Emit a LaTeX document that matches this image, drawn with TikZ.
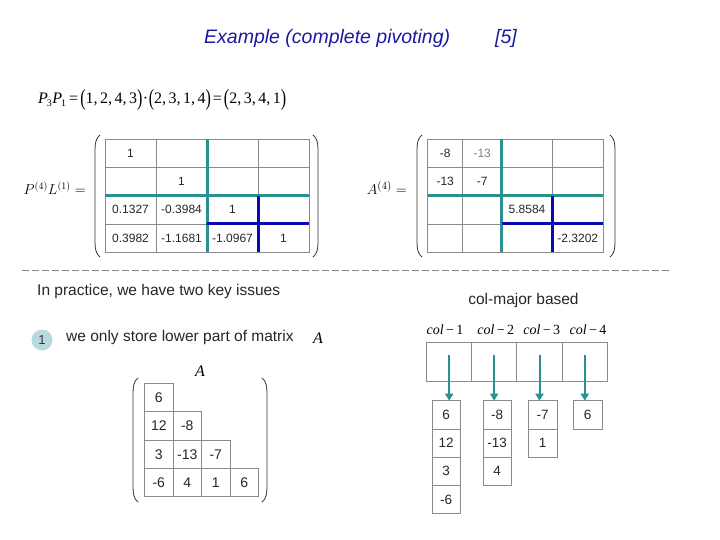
\documentclass[tikz,border=0pt]{standalone}
\usepackage{graphicx}
\usepackage{fontspec}
\setmainfont{Liberation Sans}
\newfontfamily\tms{Liberation Serif}
\usetikzlibrary{arrows.meta}
\definecolor{tealA}{HTML}{2A9090}
\definecolor{blueA}{HTML}{0A0AB4}
\definecolor{gridA}{HTML}{8A8A8A}
\definecolor{ttlA}{HTML}{1A1AA0}
\definecolor{circA}{HTML}{B6DADE}
\newcommand\myLP[3]{\draw[parpen] ({#1+5},{#2}) .. controls ({#1+1},{#2+3}) and ({#1},{#2+8}) .. ({#1},{#2+15}) -- ({#1},{#3-15}) .. controls ({#1},{#3-8}) and ({#1+1},{#3-3}) .. ({#1+5},{#3});}
\newcommand\myRP[3]{\draw[parpen] ({#1-5},{#2}) .. controls ({#1-1},{#2+3}) and ({#1},{#2+8}) .. ({#1},{#2+15}) -- ({#1},{#3-15}) .. controls ({#1},{#3-8}) and ({#1-1},{#3-3}) .. ({#1-5},{#3});}
\newcommand\bpL{\raisebox{-2.5pt}{\scalebox{1}[1.45]{(}}}
\newcommand\bpR{\raisebox{-2.5pt}{\scalebox{1}[1.45]{)}}}
\newcommand\sbs[1]{\raisebox{-3pt}{\fontsize{10}{10}\selectfont\upshape #1}}
\newcommand\cm{,\kern2.5pt}
\tikzset{
  parpen/.style={line width=0.8pt, black!80},
  cell/.style={draw=gridA, line width=0.6pt, inner sep=0pt, outer sep=0pt, minimum width=51pt, minimum height=28.2pt, font=\fontsize{12}{14}\selectfont, text=black!85},
  tcell/.style={cell, minimum width=28.4pt, minimum height=28.4pt, font=\fontsize{14}{16}\selectfont},
  ccell/.style={cell, minimum width=28.7pt, minimum height=28.2pt, font=\fontsize{13.5}{16}\selectfont},
  hcell/.style={cell, minimum width=45pt, minimum height=38.3pt},
  tealline/.style={tealA, line width=3pt},
  blueline/.style={blueA, line width=3pt},
  txt/.style={font=\fontsize{15.5}{18}\selectfont, text=black!85, inner sep=0pt},
  coll/.style={font=\tms\fontsize{14}{16}\selectfont, inner sep=0pt},
  arr/.style={tealA, line width=2pt, -{Triangle[length=7pt,width=8pt]}},
}
\begin{document}
\begin{tikzpicture}[x=1pt,y=-1pt]
\useasboundingbox (0,0) rectangle (720,540);
% title
\node[anchor=west, inner sep=0pt, text=ttlA, font=\fontsize{19.5}{22}\selectfont\itshape] (title) at (204,38) {Example (complete pivoting)};
\node[inner sep=0pt, text=ttlA, font=\fontsize{19.5}{22}\selectfont\itshape] (ref) at (506,38) {[5]};
% permutation formula
\node[anchor=west, inner sep=0pt, font=\tms\fontsize{16}{19}\selectfont] (perm) at (38,100) {\itshape P\kern-1pt\sbs{3}\kern0.5pt P\kern-1pt\sbs{1}\upshape\kern3pt=\kern2pt\bpL1\cm2\cm4\cm3\bpR\kern0.5pt·\kern0.5pt\bpL2\cm3\cm1\cm4\bpR\kern2pt=\kern2pt\bpL2\cm3\cm4\cm1\bpR};
% left matrix
\node[anchor=east, inner sep=0pt, font=\fontsize{14}{16}\selectfont] (Llab) at (86,188) {$P^{(4)}L^{(1)}=$};
\node[cell] (L-1-1) at (130.5,153.4) {1};
\node[cell] (L-1-2) at (181.5,153.4) {};
\node[cell] (L-1-3) at (232.5,153.4) {};
\node[cell] (L-1-4) at (283.5,153.4) {};
\node[cell] (L-2-1) at (130.5,181.6) {};
\node[cell] (L-2-2) at (181.5,181.6) {1};
\node[cell] (L-2-3) at (232.5,181.6) {};
\node[cell] (L-2-4) at (283.5,181.6) {};
\node[cell] (L-3-1) at (130.5,209.8) {0.1327};
\node[cell] (L-3-2) at (181.5,209.8) {-0.3984};
\node[cell] (L-3-3) at (232.5,209.8) {1};
\node[cell] (L-3-4) at (283.5,209.8) {};
\node[cell] (L-4-1) at (130.5,238) {0.3982};
\node[cell] (L-4-2) at (181.5,238) {-1.1681};
\node[cell] (L-4-3) at (232.5,238) {-1.0967};
\node[cell] (L-4-4) at (283.5,238) {1};
\draw[tealline] (L-1-3.north west) -- (L-4-3.south west);
\draw[tealline] (L-3-1.north west) -- (L-3-4.north east);
\draw[blueline] (L-3-4.north west) -- (L-4-4.south west);
\draw[blueline] (L-4-3.north west) -- (L-4-4.north east);
\myLP{95}{135}{257}
\myRP{318}{135}{257}
% right matrix
\node[anchor=east, inner sep=0pt, font=\fontsize{15}{17}\selectfont] (Rlab) at (407,188) {$A^{(4)}=$};
\node[cell, minimum width=35pt] (R-1-1) at (445.2,153.4) {-8};
\node[cell, minimum width=39pt, text=black!50] (R-1-2) at (482.2,153.4) {-13};
\node[cell, minimum width=50.6pt] (R-1-3) at (527,153.4) {};
\node[cell] (R-1-4) at (577.8,153.4) {};
\node[cell, minimum width=35pt] (R-2-1) at (445.2,181.6) {-13};
\node[cell, minimum width=39pt] (R-2-2) at (482.2,181.6) {-7};
\node[cell, minimum width=50.6pt] (R-2-3) at (527,181.6) {};
\node[cell] (R-2-4) at (577.8,181.6) {};
\node[cell, minimum width=35pt] (R-3-1) at (445.2,209.8) {};
\node[cell, minimum width=39pt] (R-3-2) at (482.2,209.8) {};
\node[cell, minimum width=50.6pt] (R-3-3) at (527,209.8) {5.8584};
\node[cell] (R-3-4) at (577.8,209.8) {};
\node[cell, minimum width=35pt] (R-4-1) at (445.2,238) {};
\node[cell, minimum width=39pt] (R-4-2) at (482.2,238) {};
\node[cell, minimum width=50.6pt] (R-4-3) at (527,238) {};
\node[cell] (R-4-4) at (577.8,238) {-2.3202};
\draw[tealline] (R-1-3.north west) -- (R-4-3.south west);
\draw[tealline] (R-3-1.north west) -- (R-3-4.north east);
\draw[blueline] (R-3-4.north west) -- (R-4-4.south west);
\draw[blueline] (R-4-3.north west) -- (R-4-4.north east);
\myLP{417}{135}{257}
\myRP{615}{135}{257}
% dashed separator
\coordinate (dL) at (22,270);
\coordinate (dR) at (672,270);
\draw[gridA, line width=0.8pt, dash pattern=on 7pt off 3pt] (dL) -- (dR);
% texts
\node[txt, anchor=west] (issues) at (37,291) {In practice, we have two key issues};
\node[txt] (colmaj) at (523.5,300) {col-major based};
\node[circle, fill=circA, minimum size=21pt, inner sep=0pt, font=\fontsize{13}{15}\selectfont, text=black!80] (c1) at (42,340) {1};
\node[txt, anchor=west] (store) at (66,337) {we only store lower part of matrix};
\node[inner sep=0pt, font=\tms\fontsize{16}{18}\selectfont\itshape] (Aa) at (318,338) {A};
% triangular A
\node[inner sep=0pt, font=\tms\fontsize{16}{18}\selectfont\itshape] (Ab) at (200,371) {A};
\node[tcell] (T-1-1) at (158.8,397.5) {6};
\node[tcell] (T-2-1) at (158.8,425.8) {12};
\node[tcell] (T-2-2) at (187.3,425.8) {-8};
\node[tcell] (T-3-1) at (158.8,454.2) {3};
\node[tcell] (T-3-2) at (187.3,454.2) {-13};
\node[tcell] (T-3-3) at (215.8,454.2) {-7};
\node[tcell] (T-4-1) at (158.8,482.2) {-6};
\node[tcell] (T-4-2) at (187.3,482.2) {4};
\node[tcell] (T-4-3) at (215.8,482.2) {1};
\node[tcell] (T-4-4) at (244.2,482.2) {6};
\myLP{133}{378}{502}
\myRP{267}{378}{502}
% column labels
\node[coll] (cl1) at (445,330) {\itshape col\,\upshape −\,1};
\node[coll] (cl2) at (495.8,330) {\itshape col\,\upshape −\,2};
\node[coll] (cl3) at (541.7,330) {\itshape col\,\upshape −\,3};
\node[coll] (cl4) at (588,330) {\itshape col\,\upshape −\,4};
% header boxes
\node[hcell] (H1) at (449.2,361.85) {};
\node[hcell] (H2) at (494.2,361.85) {};
\node[hcell, minimum width=45.6pt] (H3) at (539.5,361.85) {};
\node[hcell] (H4) at (584.8,361.85) {};
% column boxes
\node[ccell] (C1-1) at (446.2,414.8) {6};
\node[ccell] (C1-2) at (446.2,443) {12};
\node[ccell] (C1-3) at (446.2,471.2) {3};
\node[ccell] (C1-4) at (446.2,499.4) {-6};
\node[ccell] (C2-1) at (497.2,414.8) {-8};
\node[ccell] (C2-2) at (497.2,443) {-13};
\node[ccell] (C2-3) at (497.2,471.2) {4};
\node[ccell] (C3-1) at (542.5,414.8) {-7};
\node[ccell] (C3-2) at (542.5,443) {1};
\node[ccell] (C4-1) at (587.5,414.8) {6};
% arrows
\draw[arr] ([yshift=7pt]H1.center) -- (H1.center |- C1-1.north);
\draw[arr] ([yshift=7pt]H2.center) -- (H2.center |- C2-1.north);
\draw[arr] ([yshift=7pt]H3.center) -- (H3.center |- C3-1.north);
\draw[arr] ([yshift=7pt]H4.center) -- (H4.center |- C4-1.north);
\end{tikzpicture}
\end{document}
